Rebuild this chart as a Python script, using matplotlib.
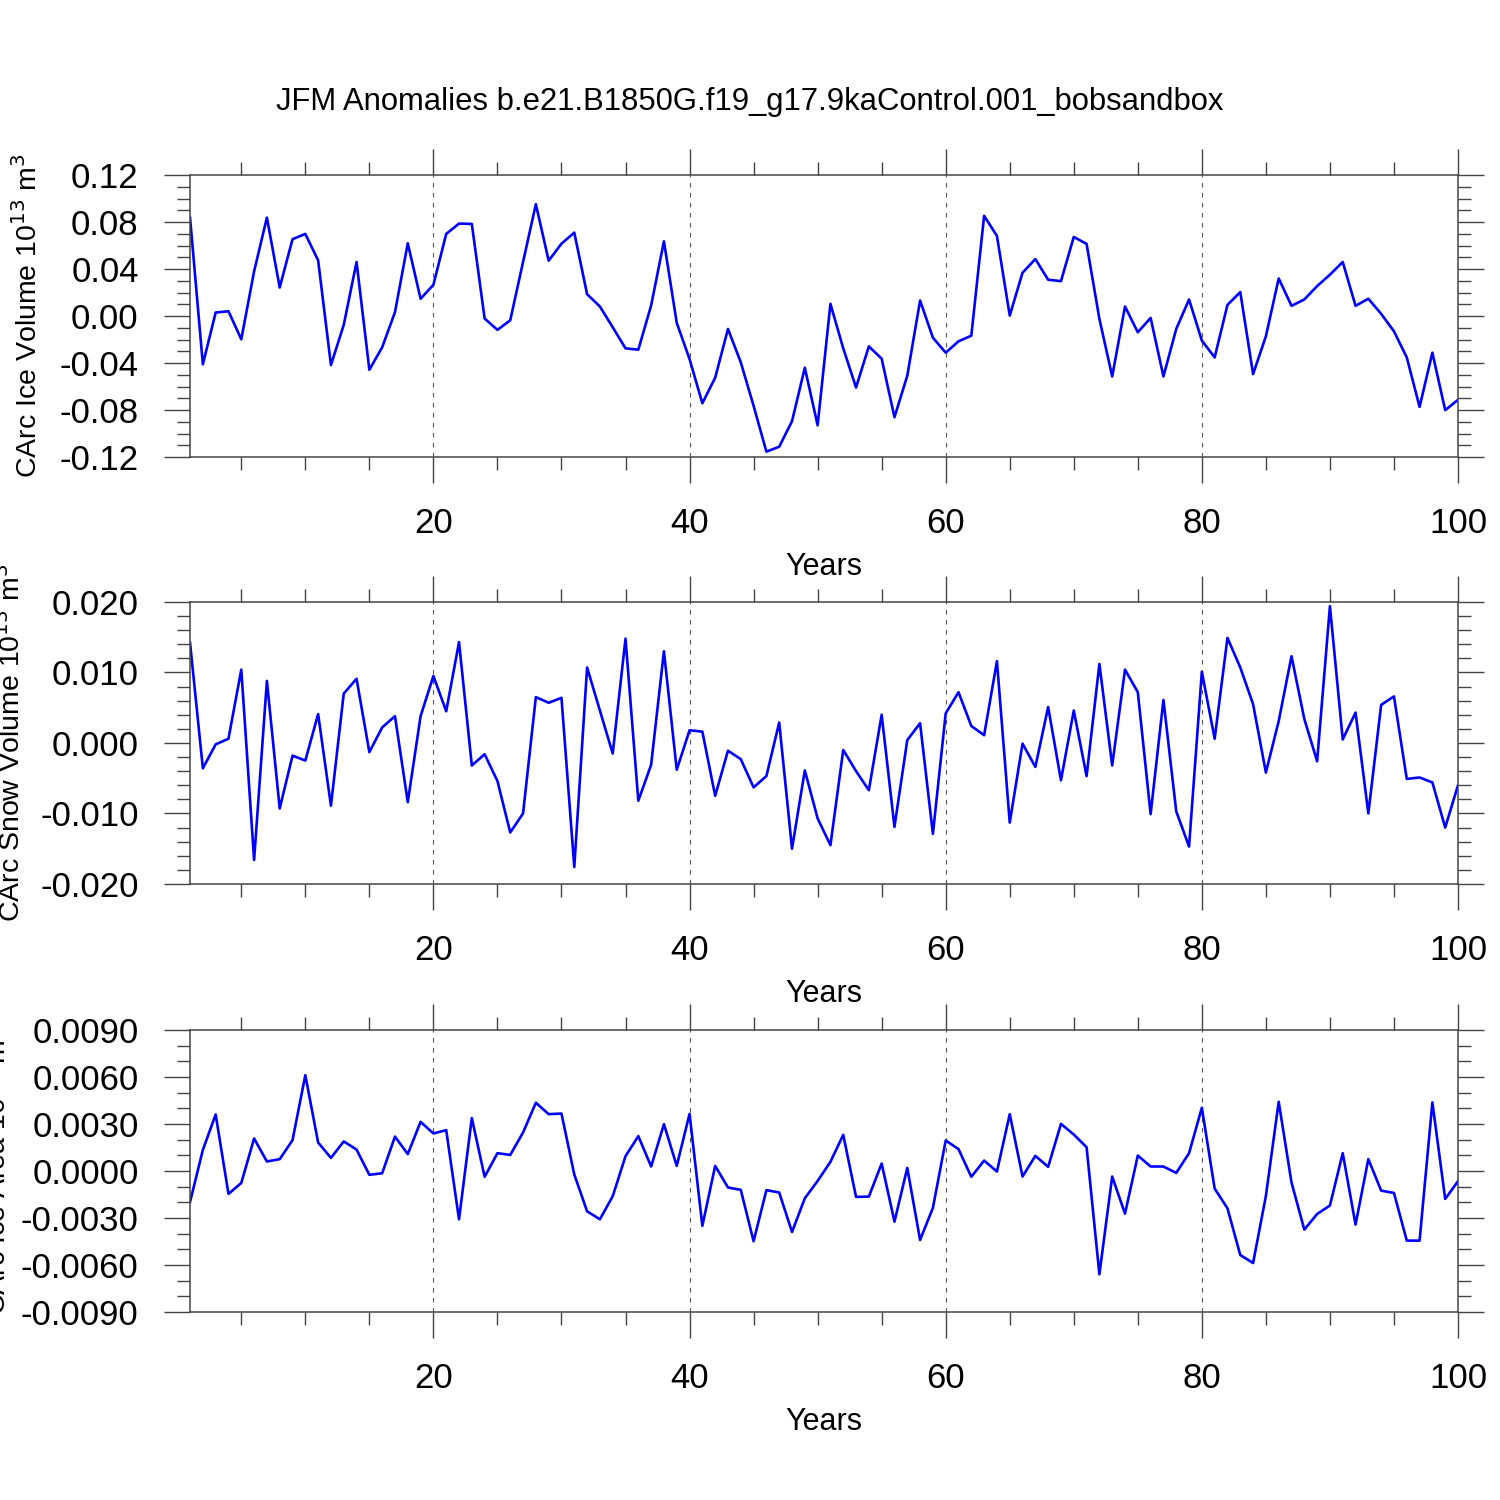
import matplotlib
matplotlib.use('Agg')
import matplotlib.pyplot as plt
from matplotlib.ticker import MultipleLocator, FixedLocator, FormatStrFormatter

plt.rcParams['font.family'] = ['Liberation Sans', 'DejaVu Sans']
plt.rcParams['axes.unicode_minus'] = False

years = list(range(1, 101))

ice_volume = [
    0.0836, -0.0411, 0.0030, 0.0041, -0.0198, 0.0380, 0.0838, 0.0243, 0.0654, 0.0699,
    0.0474, -0.0417, -0.0075, 0.0460, -0.0457, -0.0266, 0.0033, 0.0619, 0.0147, 0.0266,
    0.0699, 0.0787, 0.0784, -0.0021, -0.0118, -0.0036, 0.0460, 0.0952, 0.0471, 0.0616,
    0.0710, 0.0186, 0.0081, -0.0095, -0.0275, -0.0286, 0.0090, 0.0636, -0.0058, -0.0366,
    -0.0742, -0.0525, -0.0110, -0.0394, -0.0764, -0.1154, -0.1112, -0.0895, -0.0440, -0.0930,
    0.0104, -0.0275, -0.0608, -0.0258, -0.0363, -0.0861, -0.0508, 0.0132, -0.0184, -0.0312,
    -0.0215, -0.0167, 0.0853, 0.0682, 0.0004, 0.0369, 0.0485, 0.0309, 0.0297, 0.0673,
    0.0614, -0.0024, -0.0514, 0.0081, -0.0138, -0.0016, -0.0514, -0.0110, 0.0141, -0.0209,
    -0.0352, 0.0095, 0.0204, -0.0494, -0.0172, 0.0320, 0.0087, 0.0141, 0.0255, 0.0352,
    0.0460, 0.0087, 0.0147, 0.0019, -0.0130, -0.0352, -0.0773, -0.0312, -0.0801, -0.0713,
]

snow_volume = [
    0.0142, -0.0036, -0.0002, 0.0006, 0.0104, -0.0166, 0.0088, -0.0093, -0.0018, -0.0025,
    0.0041, -0.0089, 0.0070, 0.0091, -0.0013, 0.0022, 0.0038, -0.0084, 0.0038, 0.0095,
    0.0045, 0.0143, -0.0032, -0.0016, -0.0054, -0.0127, -0.0100, 0.0065, 0.0057, 0.0064,
    -0.0176, 0.0107, 0.0046, -0.0015, 0.0148, -0.0082, -0.0031, 0.0130, -0.0038, 0.0018,
    0.0016, -0.0075, -0.0011, -0.0023, -0.0063, -0.0047, 0.0029, -0.0150, -0.0039, -0.0107,
    -0.0145, -0.0010, -0.0040, -0.0067, 0.0040, -0.0119, 0.0004, 0.0028, -0.0129, 0.0042,
    0.0072, 0.0024, 0.0011, 0.0116, -0.0113, -0.0001, -0.0034, 0.0051, -0.0053, 0.0046,
    -0.0047, 0.0112, -0.0032, 0.0104, 0.0072, -0.0101, 0.0061, -0.0097, -0.0147, 0.0101,
    0.0006, 0.0149, 0.0107, 0.0055, -0.0042, 0.0031, 0.0123, 0.0034, -0.0026, 0.0194,
    0.0005, 0.0043, -0.0100, 0.0054, 0.0066, -0.0051, -0.0049, -0.0056, -0.0120, -0.0060,
]

ice_area = [
    -0.00197, 0.00135, 0.00361, -0.00146, -0.00076, 0.00208, 0.00061, 0.00076, 0.00197, 0.00612,
    0.00182, 0.00084, 0.00189, 0.00137, -0.00024, -0.00014, 0.00220, 0.00108, 0.00314, 0.00240,
    0.00261, -0.00308, 0.00338, -0.00037, 0.00114, 0.00103, 0.00246, 0.00436, 0.00363, 0.00367,
    -0.00022, -0.00257, -0.00308, -0.00161, 0.00095, 0.00223, 0.00029, 0.00299, 0.00033, 0.00365,
    -0.00350, 0.00033, -0.00105, -0.00120, -0.00448, -0.00122, -0.00137, -0.00389, -0.00174, -0.00063,
    0.00059, 0.00231, -0.00165, -0.00163, 0.00048, -0.00323, 0.00020, -0.00440, -0.00235, 0.00195,
    0.00140, -0.00037, 0.00067, -0.00003, 0.00363, -0.00035, 0.00097, 0.00027, 0.00301, 0.00233,
    0.00152, -0.00659, -0.00035, -0.00272, 0.00099, 0.00029, 0.00029, -0.00012, 0.00114, 0.00404,
    -0.00112, -0.00238, -0.00536, -0.00587, -0.00159, 0.00442, -0.00073, -0.00374, -0.00274, -0.00220,
    0.00114, -0.00342, 0.00076, -0.00125, -0.00140, -0.00444, -0.00444, 0.00438, -0.00178, -0.00065,
]

title = 'JFM Anomalies b.e21.B1850G.f19_g17.9kaControl.001_bobsandbox'

# per panel: data, ylabel, limit, major step, minor step, format, ylabel x
panels = [
    (ice_volume, 'CArc Ice Volume 10$^{13}$ m$^3$', 0.12, 0.04, 0.01, '%.2f', -0.128),
    (snow_volume, 'CArc Snow Volume 10$^{13}$ m$^3$', 0.02, 0.01, 0.002, '%.3f', -0.141),
    (ice_area, 'CArc Ice Area 10$^{13}$ m$^2$', 0.009, 0.003, 0.001, '%.4f', -0.152),
]
bottoms = [0.6953, 0.4107, 0.1253]

fig = plt.figure(figsize=(15, 15), dpi=100)
fig.text(0.5, 1 - 102 / 1500, title, ha='center', va='center', fontsize=22.3)

major_x = [20, 40, 60, 80, 100]
minor_x = [v for v in range(5, 100, 5) if v not in major_x]

for (vals, ylab, lim, step, mstep, fmt, labx), b in zip(panels, bottoms):
    ax = fig.add_axes([0.1267, b, 0.8453, 0.188])
    ax.plot(years, vals, color='blue', lw=1.9)
    ax.set_xlim(1, 100)
    ax.set_ylim(-lim, lim)
    for gx in major_x[:-1]:
        ax.axvline(gx, color='#555555', lw=0.8, ls=(0, (4, 5)), zorder=0)
    ax.xaxis.set_major_locator(FixedLocator(major_x))
    ax.xaxis.set_minor_locator(FixedLocator(minor_x))
    ax.yaxis.set_major_locator(MultipleLocator(step))
    ax.yaxis.set_minor_locator(MultipleLocator(mstep))
    ax.yaxis.set_major_formatter(FormatStrFormatter(fmt))
    ax.tick_params(which='both', direction='out', top=True, right=True,
                   width=1.0, color='#444444')
    ax.tick_params(which='major', length=19, labelsize=25)
    ax.tick_params(which='minor', length=9.5)
    ax.tick_params(axis='x', which='major', pad=17)
    ax.tick_params(axis='y', which='major', pad=18)
    for s in ax.spines.values():
        s.set_linewidth(1.1)
        s.set_color('#444444')
    ax.set_xlabel('Years', fontsize=22)
    ax.xaxis.set_label_coords(0.5, -0.39)
    ax.xaxis.label.set_va('center')
    ax.set_ylabel(ylab, fontsize=20.5)
    ax.yaxis.set_label_coords(labx, 0.5)
    ax.yaxis.label.set_va('center')

fig.savefig('out.png', dpi=100)
plt.close(fig)
